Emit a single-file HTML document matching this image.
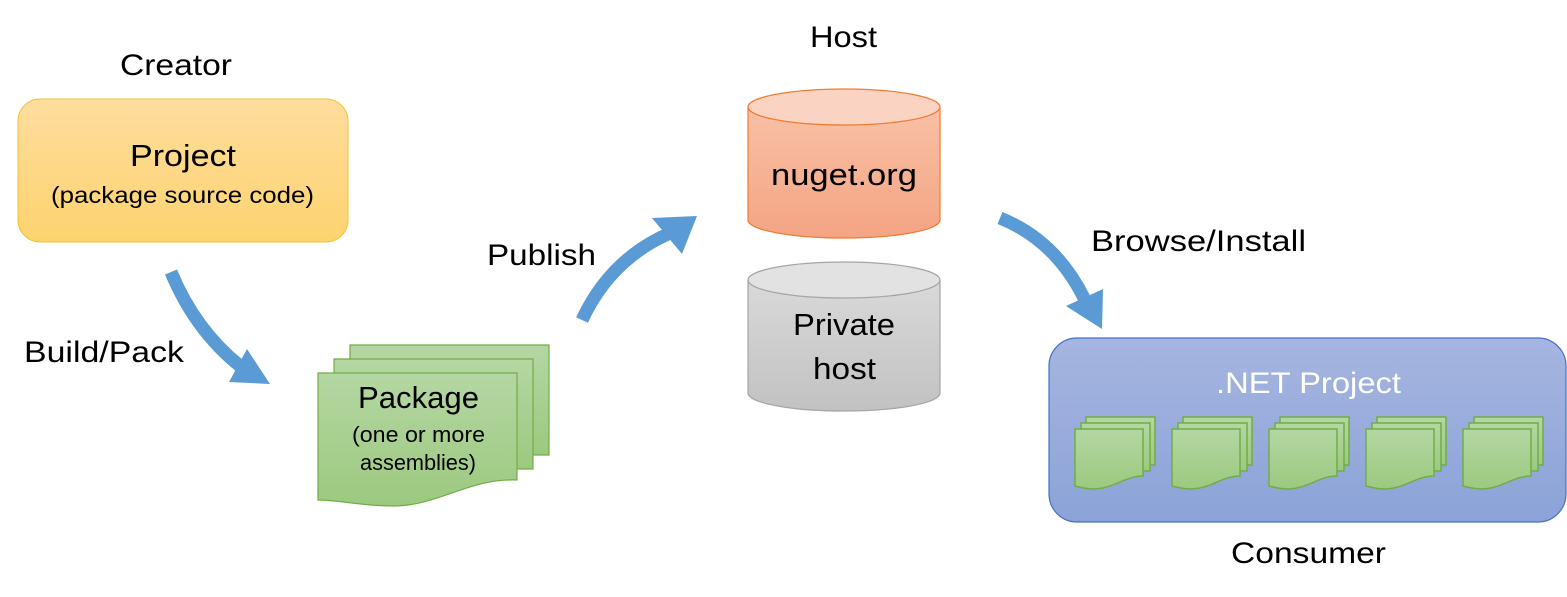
<!DOCTYPE html>
<html><head><style>
body{margin:0;background:#fff;}
svg{display:block;font-family:"Liberation Sans",sans-serif;}
</style></head><body>
<svg width="1567" height="597" viewBox="0 0 1567 597" xmlns="http://www.w3.org/2000/svg">
<defs>
<linearGradient id="gy" x1="0" y1="0" x2="0" y2="1"><stop offset="0" stop-color="#fedd9e"/><stop offset="1" stop-color="#fdd36f"/></linearGradient>
<linearGradient id="gg" x1="0" y1="0" x2="0" y2="1"><stop offset="0" stop-color="#b4d7a3"/><stop offset="1" stop-color="#9cc97f"/></linearGradient>
<linearGradient id="go" x1="0" y1="0" x2="0" y2="1"><stop offset="0" stop-color="#f9c0a6"/><stop offset="1" stop-color="#f4a483"/></linearGradient>
<linearGradient id="gr" x1="0" y1="0" x2="0" y2="1"><stop offset="0" stop-color="#d9d9d9"/><stop offset="1" stop-color="#c2c2c2"/></linearGradient>
<linearGradient id="gb" x1="0" y1="0" x2="0" y2="1"><stop offset="0" stop-color="#a6b5e0"/><stop offset="1" stop-color="#8ba3d8"/></linearGradient>
<g id="doc">
<path d="M31,0 H100 V48 H31 Z" fill="url(#gg)" stroke="#70ad47" stroke-width="1.5"/>
<path d="M26,6 H95 V54 H26 Z" fill="url(#gg)" stroke="#70ad47" stroke-width="1.5"/>
<path d="M20,12 H88 V59 C70,59 60,71 40,72 C30,72 25,70 20,69 Z" fill="url(#gg)" stroke="#70ad47" stroke-width="1.5"/>
</g>
</defs>
<text x="120" y="75" font-size="30" textLength="112" lengthAdjust="spacingAndGlyphs">Creator</text>
<rect x="18" y="99" width="330" height="143" rx="22" fill="url(#gy)" stroke="#f5c232" stroke-width="1"/>
<text x="130" y="166" font-size="31" textLength="106" lengthAdjust="spacingAndGlyphs">Project</text>
<text x="51" y="203" font-size="23" textLength="263" lengthAdjust="spacingAndGlyphs">(package source code)</text>

<text x="24" y="362" font-size="30" textLength="160" lengthAdjust="spacingAndGlyphs">Build/Pack</text>
<path d="M171,272 Q195,330 240,366" fill="none" stroke="#5b9bd5" stroke-width="13"/>
<polygon points="247,349 229,382 270,384" fill="#5b9bd5"/>

<path d="M350,345 H549 V455 H350 Z" fill="url(#gg)" stroke="#70ad47" stroke-width="1.2"/>
<path d="M334,359 H533 V469 H334 Z" fill="url(#gg)" stroke="#70ad47" stroke-width="1.2"/>
<path d="M318,373 H517 V480 C470,478 440,505 395,506 C360,506 340,500 318,500 Z" fill="url(#gg)" stroke="#70ad47" stroke-width="1.2"/>
<text x="358" y="408" font-size="31" textLength="121" lengthAdjust="spacingAndGlyphs">Package</text>
<text x="352" y="442" font-size="22" textLength="133" lengthAdjust="spacingAndGlyphs">(one or more</text>
<text x="360" y="470" font-size="22" textLength="116" lengthAdjust="spacingAndGlyphs">assemblies)</text>

<text x="487" y="265" font-size="30" textLength="109" lengthAdjust="spacingAndGlyphs">Publish</text>
<path d="M582,320 Q610,260 668,234" fill="none" stroke="#5b9bd5" stroke-width="13"/>
<polygon points="652,218 682,254 697,216" fill="#5b9bd5"/>

<text x="810" y="47" font-size="30" textLength="67" lengthAdjust="spacingAndGlyphs">Host</text>
<path d="M748,107 V220 A96,18 0 0 0 940,220 V107" fill="url(#go)" stroke="#ed7d31" stroke-width="1.2"/>
<ellipse cx="844" cy="107" rx="96" ry="18" fill="#fad3c3" stroke="#ed7d31" stroke-width="1.2"/>
<text x="771" y="185" font-size="31" textLength="146" lengthAdjust="spacingAndGlyphs">nuget.org</text>
<path d="M748,280 V393 A96,18 0 0 0 940,393 V280" fill="url(#gr)" stroke="#a5a5a5" stroke-width="1.2"/>
<ellipse cx="844" cy="280" rx="96" ry="18" fill="#e2e2e2" stroke="#a5a5a5" stroke-width="1.2"/>
<text x="793" y="335" font-size="31" textLength="102" lengthAdjust="spacingAndGlyphs">Private</text>
<text x="813" y="379" font-size="31" textLength="63" lengthAdjust="spacingAndGlyphs">host</text>

<text x="1091" y="251" font-size="30" textLength="215" lengthAdjust="spacingAndGlyphs">Browse/Install</text>
<path d="M1000,218 Q1055,240 1084,298" fill="none" stroke="#5b9bd5" stroke-width="13"/>
<polygon points="1066,306 1103,289 1102,329" fill="#5b9bd5"/>

<rect x="1049" y="338" width="517" height="184" rx="28" fill="url(#gb)" stroke="#4472c4" stroke-width="1.2"/>
<text x="1216" y="393" font-size="30" fill="#fff" textLength="185" lengthAdjust="spacingAndGlyphs">.NET Project</text>
<use href="#doc" x="1055" y="417"/>
<use href="#doc" x="1152" y="417"/>
<use href="#doc" x="1249" y="417"/>
<use href="#doc" x="1346" y="417"/>
<use href="#doc" x="1443" y="417"/>
<text x="1231" y="563" font-size="30" textLength="155" lengthAdjust="spacingAndGlyphs">Consumer</text>
</svg>
</body></html>
